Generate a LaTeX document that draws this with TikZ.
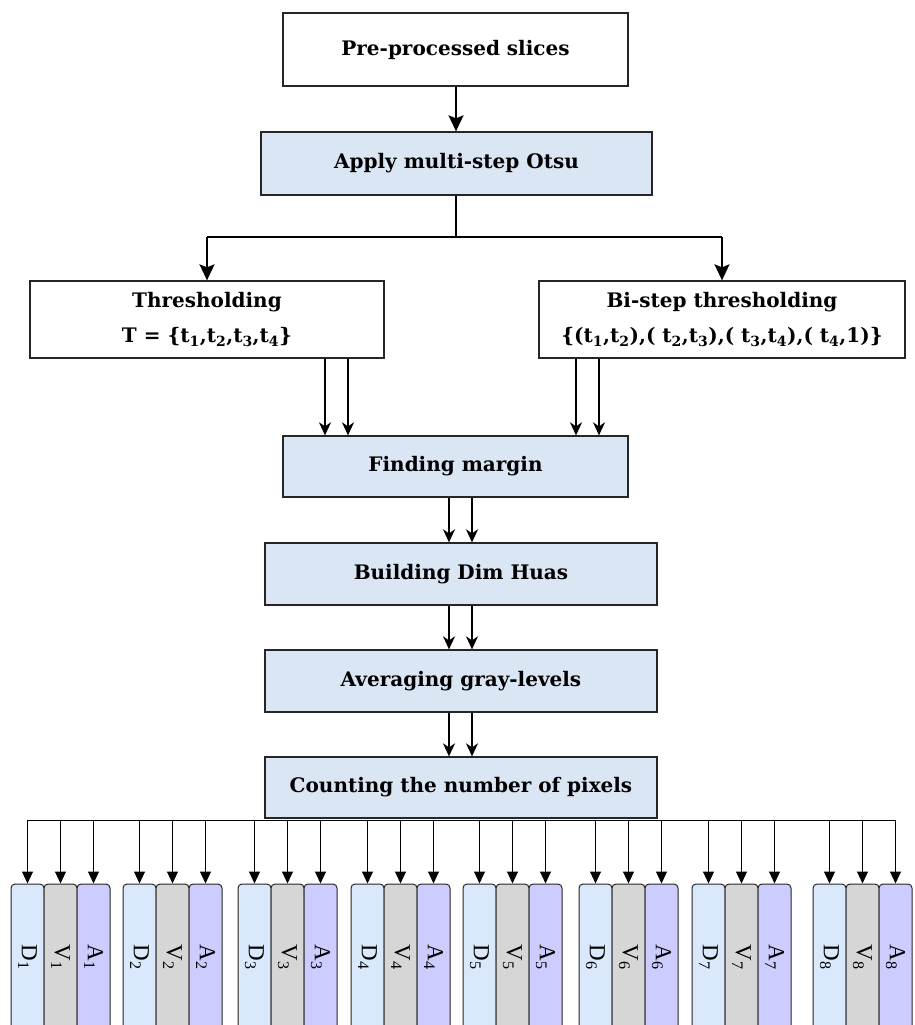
\documentclass[tikz,border=0pt]{standalone}
\usepackage{fontspec}
\setmainfont{Liberation Serif}
\newfontfamily\boxfont{DejaVu Serif}
\usetikzlibrary{arrows.meta,calc}
\definecolor{boxblue}{HTML}{DAE6F4}
\definecolor{dcol}{HTML}{DAE8FC}
\definecolor{vcol}{HTML}{D6D6D6}
\definecolor{acol}{HTML}{CCCCFF}
\definecolor{edge}{HTML}{262626}
\begin{document}
\begin{tikzpicture}[x=1pt,y=-1pt,
  box/.style={draw=edge,line width=1.3pt,inner sep=2pt,align=center,
    font=\boxfont\fontsize{20}{35}\selectfont\bfseries},
  wbox/.style={box,fill=white},
  bbox/.style={box,fill=boxblue},
  thick arr/.style={line width=2pt,-{Stealth[length=16pt,width=15pt,inset=3pt]}},
  mid arr/.style={line width=2pt},
  dbl arr/.style={line width=1.6pt,-{Stealth[length=13pt,width=12pt,inset=4pt]}},
  col/.style={draw=edge,line width=1pt,rounded corners=4pt,minimum width=33pt,minimum height=146pt,inner sep=0pt},
  lbl/.style={rotate=-90,font=\fontsize{23}{26}\selectfont},
  fan arr/.style={line width=1pt,-{Triangle[length=12pt,width=11pt]}},
  fan line/.style={line width=1pt}
]
\useasboundingbox (0,0) rectangle (914,1025);
\clip (0,0) rectangle (914,1025);
\fill[white] (0,0) rectangle (914,1025);

\node[wbox,minimum width=345pt,minimum height=73pt] (pre) at (455.5,49.5) {Pre-processed slices};
\node[bbox,minimum width=391pt,minimum height=63pt] (otsu) at (456.5,163.5) {Apply multi-step Otsu};
\node[wbox,minimum width=354pt,minimum height=77pt] (thr) at (207,319.5) {Thresholding\\T = \{t\textsubscript{1},t\textsubscript{2},t\textsubscript{3},t\textsubscript{4}\}};
\node[wbox,minimum width=366pt,minimum height=77pt] (bi) at (722,319.5) {Bi-step thresholding\\\{(t\textsubscript{1},t\textsubscript{2}),( t\textsubscript{2},t\textsubscript{3}),( t\textsubscript{3},t\textsubscript{4}),( t\textsubscript{4},1)\}};
\node[bbox,minimum width=345pt,minimum height=61pt] (fm) at (455.5,466.5) {Finding margin};
\node[bbox,minimum width=392pt,minimum height=62pt] (bd) at (461,574) {Building Dim Huas};
\node[bbox,minimum width=392pt,minimum height=62pt] (avg) at (461,681) {Averaging gray-levels};
\node[bbox,minimum width=392pt,minimum height=61pt] (cnt) at (461,787.5) {Counting the number of pixels};

% top arrows
\coordinate (x0) at (456,0);
\draw[thick arr] (pre.south -| x0) -- (otsu.north -| x0);
\coordinate (split) at (456,237);
\draw[mid arr] (otsu.south -| x0) -- (split);
\draw[mid arr] (thr.north |- split) -- (bi.north |- split);
\draw[thick arr] (thr.north |- split) -- (thr.north);
\draw[thick arr] (bi.north |- split) -- (bi.north);

% double arrows
\coordinate (x1) at (325,0);
\coordinate (x2) at (348,0);
\coordinate (x3) at (576,0);
\coordinate (x4) at (599,0);
\coordinate (xa) at (449,0);
\coordinate (xb) at (472,0);
\draw[dbl arr] (thr.south -| x1) -- (fm.north -| x1);
\draw[dbl arr] (thr.south -| x2) -- (fm.north -| x2);
\draw[dbl arr] (bi.south -| x3) -- (fm.north -| x3);
\draw[dbl arr] (bi.south -| x4) -- (fm.north -| x4);
\draw[dbl arr] (fm.south -| xa) -- (bd.north -| xa);
\draw[dbl arr] (fm.south -| xb) -- (bd.north -| xb);
\draw[dbl arr] (bd.south -| xa) -- (avg.north -| xa);
\draw[dbl arr] (bd.south -| xb) -- (avg.north -| xb);
\draw[dbl arr] (avg.south -| xa) -- (cnt.north -| xa);
\draw[dbl arr] (avg.south -| xb) -- (cnt.north -| xb);

% columns
\coordinate (fan) at (0,820);
\foreach \g/\s in {1/11,2/123,3/238,4/351,5/463,6/579,7/692,8/813}{
  \node[col,fill=dcol,label={[lbl]center:D\textsubscript{\g}}] (D\g) at (\s+16.5,957) {};
  \node[col,fill=vcol,label={[lbl]center:V\textsubscript{\g}}] (V\g) at (\s+49.5,957) {};
  \node[col,fill=acol,label={[lbl]center:A\textsubscript{\g}}] (A\g) at (\s+82.5,957) {};
  \draw[fan arr] (D\g.north |- fan) -- (D\g.north);
  \draw[fan arr] (V\g.north |- fan) -- (V\g.north);
  \draw[fan arr] (A\g.north |- fan) -- (A\g.north);
}
\draw[fan line] (D1.north |- fan) -- (A8.north |- fan);
\end{tikzpicture}
\end{document}
